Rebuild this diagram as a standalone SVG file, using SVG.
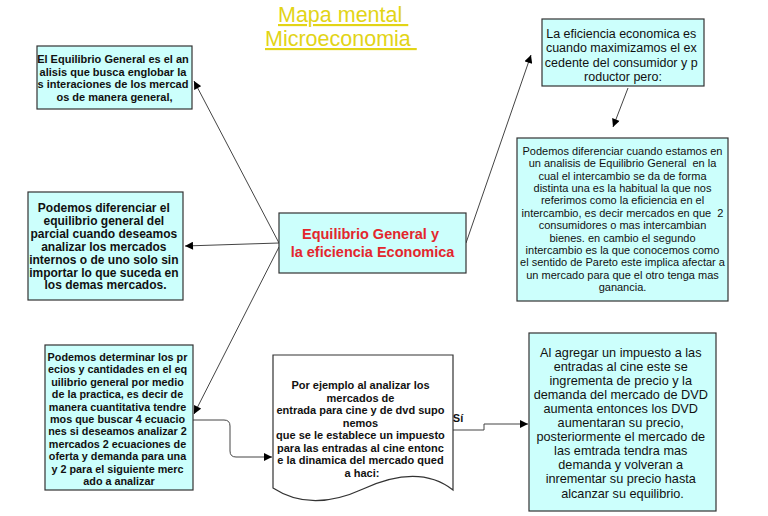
<svg xmlns="http://www.w3.org/2000/svg" width="768" height="516" viewBox="0 0 768 516">
<defs>
<marker id="arr" viewBox="0 0 10 10" refX="10" refY="5" markerWidth="10" markerHeight="8" markerUnits="userSpaceOnUse" orient="auto">
<path d="M0,0 L10,5 L0,10 Z" fill="#000"/>
</marker>
<style>
.box{fill:#ccfffc;stroke:#333;stroke-width:1.2}
.doc{fill:#fff;stroke:#333;stroke-width:1.2}
.b{font-family:"Liberation Sans",Arial,sans-serif;font-weight:bold;fill:#111;text-anchor:middle}
.r{font-family:"Liberation Sans",Arial,sans-serif;fill:#111;text-anchor:middle}
.ttl{font-family:"Liberation Sans",Arial,sans-serif;font-size:21.5px;fill:#e2d416;text-decoration:underline}
.main{font-family:"Liberation Sans",Arial,sans-serif;font-weight:bold;font-size:14.5px;fill:#e3262d;text-anchor:middle}
.con{fill:none;stroke:#444;stroke-width:1}
</style>
</defs>
<rect width="768" height="516" fill="#fff"/>

<g id="title">
<text class="ttl" x="278" y="22" xml:space="preserve">Mapa mental </text>
<text class="ttl" x="265" y="46" xml:space="preserve">Microeconomia </text>
</g>

<g id="connectors">
<line class="con" x1="279" y1="243" x2="194" y2="81" marker-end="url(#arr)"/>
<line class="con" x1="279" y1="243" x2="185" y2="246" marker-end="url(#arr)"/>
<line class="con" x1="279" y1="247" x2="194" y2="414" marker-end="url(#arr)"/>
<line class="con" x1="466" y1="243" x2="531" y2="55" marker-end="url(#arr)"/>
<line class="con" x1="628" y1="88" x2="613" y2="127" marker-end="url(#arr)"/>
<path class="con" d="M193,420 H224 Q230,420 230,426 V451 Q230,457 236,457 H272" marker-end="url(#arr)"/>
<path class="con" d="M453,430 H484 V424 H528" marker-end="url(#arr)"/>
<text class="b" x="458" y="422" font-size="11">Sí</text>
</g>

<g id="n-equilibrio-def">
<rect class="box" x="37" y="46" width="155" height="63"/>
<text class="b" font-size="11">
<tspan x="114.5" y="63">El Equilibrio General es el an</tspan>
<tspan x="114.5" y="75.5">alisis que busca englobar la</tspan>
<tspan x="114.5" y="88">s interaciones de los mercad</tspan>
<tspan x="114.5" y="100.5">os de manera general,</tspan>
</text>
</g>

<g id="n-parcial">
<rect class="box" x="28" y="192" width="155" height="108"/>
<text class="b" font-size="12">
<tspan x="105.5" y="212">Podemos diferenciar el</tspan>
<tspan x="105.5" y="224.9">equilibrio general del</tspan>
<tspan x="105.5" y="237.8">parcial cuando deseamos</tspan>
<tspan x="105.5" y="250.7">analizar los mercados</tspan>
<tspan x="105.5" y="263.6">internos o de uno solo sin</tspan>
<tspan x="105.5" y="276.5">importar lo que suceda en</tspan>
<tspan x="105.5" y="289.4">los demas mercados.</tspan>
</text>
</g>

<g id="n-center">
<rect class="box" x="279" y="213" width="187" height="60"/>
<text class="main">
<tspan x="372.5" y="239">Equilibrio General y</tspan>
<tspan x="372.5" y="257">la eficiencia Economica</tspan>
</text>
</g>

<g id="n-eficiencia">
<rect class="box" x="542" y="19" width="162" height="67"/>
<text class="r" font-size="12.5">
<tspan x="623" y="37.5">La eficiencia economica es</tspan>
<tspan x="623" y="52">cuando maximizamos el ex</tspan>
<tspan x="623" y="66.5">cedente del consumidor y p</tspan>
<tspan x="623" y="81">roductor pero:</tspan>
</text>
</g>

<g id="n-pareto">
<rect class="box" x="517" y="138" width="211" height="163"/>
<text class="r" font-size="11" xml:space="preserve"><tspan x="622.5" y="155">Podemos diferenciar cuando estamos en</tspan><tspan x="622.5" y="167.4">un analisis de Equilibrio General  en la</tspan><tspan x="622.5" y="179.7">cual el intercambio se da de forma</tspan><tspan x="622.5" y="192.1">distinta una es la habitual la que nos</tspan><tspan x="622.5" y="204.4">referimos como la eficiencia en el</tspan><tspan x="622.5" y="216.8">intercambio, es decir mercados en que  2</tspan><tspan x="622.5" y="229.2">consumidores o mas intercambian</tspan><tspan x="622.5" y="241.5">bienes. en cambio el segundo</tspan><tspan x="622.5" y="253.9">intercambio es la que conocemos como</tspan><tspan x="622.5" y="266.2">el sentido de Pareto este implica afectar a</tspan><tspan x="622.5" y="278.6">un mercado para que el otro tenga mas</tspan><tspan x="622.5" y="291">ganancia.</tspan></text>
</g>

<g id="n-determinar">
<rect class="box" x="45" y="345" width="148" height="145"/>
<text class="b" font-size="10.8">
<tspan x="119" y="361">Podemos determinar los pr</tspan>
<tspan x="119" y="373.4">ecios y cantidades en el eq</tspan>
<tspan x="119" y="385.8">uilibrio general por medio</tspan>
<tspan x="119" y="398.2">de la practica, es decir de</tspan>
<tspan x="119" y="410.6">manera cuantitativa tendre</tspan>
<tspan x="119" y="423">mos que buscar 4 ecuacio</tspan>
<tspan x="119" y="435.4">nes si deseamos analizar 2</tspan>
<tspan x="119" y="447.8">mercados 2 ecuaciones de</tspan>
<tspan x="119" y="460.2">oferta y demanda para una</tspan>
<tspan x="119" y="472.6">y 2 para el siguiente merc</tspan>
<tspan x="119" y="485">ado a analizar</tspan>
</text>
</g>

<g id="n-ejemplo">
<path class="doc" d="M273,355 H453 V490 C430,472 400,472 363,489 C326,506 296,503 273,488 Z"/>
<text class="b" font-size="11">
<tspan x="362" y="389">Por ejemplo al analizar los</tspan>
<tspan x="362" y="401.5">mercados de</tspan>
<tspan x="362" y="414">entrada para cine y de dvd supo</tspan>
<tspan x="362" y="426.5">nemos</tspan>
<tspan x="362" y="439">que se le establece un impuesto</tspan>
<tspan x="362" y="451.5">para las entradas al cine entonc</tspan>
<tspan x="362" y="464">e la dinamica del mercado qued</tspan>
<tspan x="362" y="476.5">a haci:</tspan>
</text>
</g>

<g id="n-impuesto">
<rect class="box" x="529" y="333" width="187" height="178"/>
<text class="r" font-size="12.7">
<tspan x="622.5" y="356.5">Al agregar un impuesto a las</tspan>
<tspan x="622.5" y="370.6">entradas al cine este se</tspan>
<tspan x="622.5" y="384.7">ingrementa de precio y la</tspan>
<tspan x="622.5" y="398.8">demanda del mercado de DVD</tspan>
<tspan x="622.5" y="412.9">aumenta entonces los DVD</tspan>
<tspan x="622.5" y="427">aumentaran su precio,</tspan>
<tspan x="622.5" y="441.1">posteriormente el mercado de</tspan>
<tspan x="622.5" y="455.2">las emtrada tendra mas</tspan>
<tspan x="622.5" y="469.3">demanda y volveran a</tspan>
<tspan x="622.5" y="483.4">inrementar su precio hasta</tspan>
<tspan x="622.5" y="497.5">alcanzar su equilibrio.</tspan>
</text>
</g>
</svg>
